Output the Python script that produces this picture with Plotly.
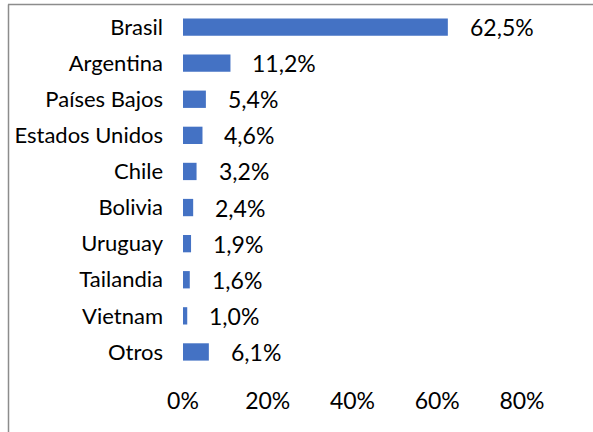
import plotly.graph_objects as go

categories = ["Brasil", "Argentina", "Países Bajos", "Estados Unidos", "Chile",
              "Bolivia", "Uruguay", "Tailandia", "Vietnam", "Otros"]
values = [62.5, 11.2, 5.4, 4.6, 3.2, 2.4, 1.9, 1.6, 1.0, 6.1]
labels = ["62,5%", "11,2%", "5,4%", "4,6%", "3,2%", "2,4%", "1,9%", "1,6%", "1,0%", "6,1%"]
tick_vals = [0, 20, 40, 60, 80]
tick_text = ["0%", "20%", "40%", "60%", "80%"]

FONT = "Lato"
CAT_SIZE = 22
NUM_SIZE = 23
W, H = 593, 432
L, R, T, B = 183, 71, 9, 62
pw, ph = W - L - R, H - T - B

fig = go.Figure(go.Bar(
    y=categories, x=values, orientation="h",
    marker=dict(color="#4472C4", line=dict(width=0)),
    width=0.48, hoverinfo="skip",
))

for c, v, t in zip(categories, values, labels):
    fig.add_annotation(x=v, y=c, text=t, showarrow=False, xanchor="left",
                       xshift=20, font=dict(family=FONT, size=NUM_SIZE, color="#000000"))

# chart area frame: top and left edges
fig.add_shape(type="line", xref="paper", yref="paper",
              x0=(8 - L) / pw, x1=(W - L) / pw,
              y0=1 + (T - 4.5) / ph, y1=1 + (T - 4.5) / ph,
              line=dict(color="#8C8C8C", width=1.5), layer="above")
fig.add_shape(type="line", xref="paper", yref="paper",
              x0=(8.5 - L) / pw, x1=(8.5 - L) / pw,
              y0=1 + (T - 4.5) / ph, y1=-(B + 5) / ph,
              line=dict(color="#8C8C8C", width=1.5), layer="above")

fig.update_layout(
    width=W, height=H,
    margin=dict(l=L, r=R, t=T, b=B, autoexpand=False),
    paper_bgcolor="white", plot_bgcolor="white",
    showlegend=False,
    font=dict(family=FONT, size=CAT_SIZE, color="#000000"),
    xaxis=dict(range=[0, 80], tickvals=tick_vals, ticktext=tick_text,
               showgrid=False, zeroline=False, showline=False,
               ticks="", ticklabelstandoff=15,
               tickfont=dict(family=FONT, size=NUM_SIZE, color="#000000")),
    yaxis=dict(autorange="reversed", showgrid=False, zeroline=False,
               showline=False, ticks="", ticklabelstandoff=19,
               tickfont=dict(family=FONT, size=CAT_SIZE, color="#000000")),
)

fig.write_html("out.html", config={"displayModeBar": False, "staticPlot": True},
               post_script="document.body.style.margin='0';document.body.style.overflow='hidden';")
